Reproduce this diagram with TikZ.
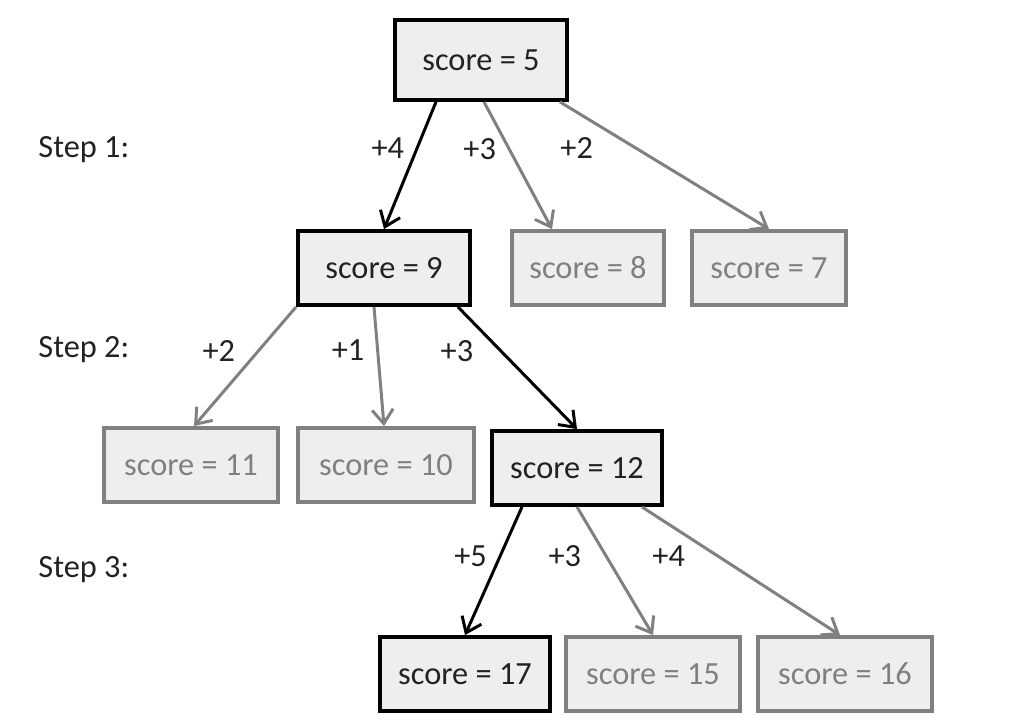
\documentclass[tikz,border=0pt]{standalone}
\usepackage{fontspec}
\setmainfont{Carlito}
\usetikzlibrary{arrows.meta}
\definecolor{boxfill}{HTML}{EEEEEE}
\definecolor{dimgrey}{HTML}{808080}
\definecolor{ink}{HTML}{222222}
\tikzset{
  state/.style={draw, line width=1.1pt, fill=boxfill, minimum width=1.72cm,
    minimum height=0.74cm, font=\fontsize{9.2}{11}\selectfont},
  best/.style={state, draw=black, text=ink},
  other/.style={state, draw=dimgrey, text=dimgrey},
  move/.style={line width=0.85pt, -{Straight Barb[length=4pt,width=6pt]}},
  lbl/.style={font=\fontsize{9.2}{11}\selectfont, text=ink},
}
\begin{document}
\begin{tikzpicture}[x=0.01cm,y=-0.01cm]
  \useasboundingbox (0,0) rectangle (1010,720);

  \node[lbl,anchor=west] (s1) at (26,150) {Step 1:};
  \node[lbl,anchor=west] (s2) at (26,350) {Step 2:};
  \node[lbl,anchor=west] (s3) at (26,570) {Step 3:};

  \node[best,minimum height=0.8cm] (n5) at (481,60) {score = 5};

  \node[best] (n9) at (384,268) {score = 9};
  \node[other,minimum width=1.52cm] (n8) at (588,268) {score = 8};
  \node[other,minimum width=1.54cm] (n7) at (769,268) {score = 7};

  \node[other,minimum width=1.74cm] (n11) at (191,465) {score = 11};
  \node[other,minimum width=1.76cm] (n10) at (386,465) {score = 10};
  \node[best,minimum width=1.70cm] (n12) at (577,468) {score = 12};

  \node[best,minimum width=1.70cm] (n17) at (465,674) {score = 17};
  \node[other,minimum width=1.74cm] (n15) at (653,674) {score = 15};
  \node[other,minimum width=1.74cm] (n16) at (845,674) {score = 16};

  % step 1
  \draw[move,black] ([xshift=-0.45cm]n5.south) -- node[lbl,pos=.36,left]{+4} (n9.north);
  \draw[move,dimgrey] ([xshift=0.03cm]n5.south) -- node[lbl,pos=.37,left]{+3}
    ([xshift=-0.36cm]n8.north);
  \draw[move,dimgrey] ([xshift=-0.09cm]n5.south east) -- node[lbl,pos=.36,left=0.29cm]{+2}
    (n7.north);

  % step 2
  \draw[move,dimgrey] (n9.south west) -- node[lbl,pos=.37,left=0.1cm]{+2}
    ([xshift=0.03cm]n11.north);
  \draw[move,dimgrey] ([xshift=-0.1cm]n9.south) -- node[lbl,pos=.36,left]{+1}
    ([xshift=-0.02cm]n10.north);
  \draw[move,black] ([xshift=-0.14cm]n9.south east) -- node[lbl,pos=.365,left=0.15cm]{+3}
    (n12.north);

  % step 3
  \draw[move,black] ([xshift=-0.55cm]n12.south) -- node[lbl,pos=.385,left]{+5} (n17.north);
  \draw[move,dimgrey] (n12.south) -- node[lbl,pos=.385,left=0.12cm]{+3} (n15.north);
  \draw[move,dimgrey] ([xshift=-0.22cm]n12.south east) -- node[lbl,pos=.385,left=0.2cm]{+4}
    ([xshift=-0.05cm]n16.north);
\end{tikzpicture}
\end{document}
